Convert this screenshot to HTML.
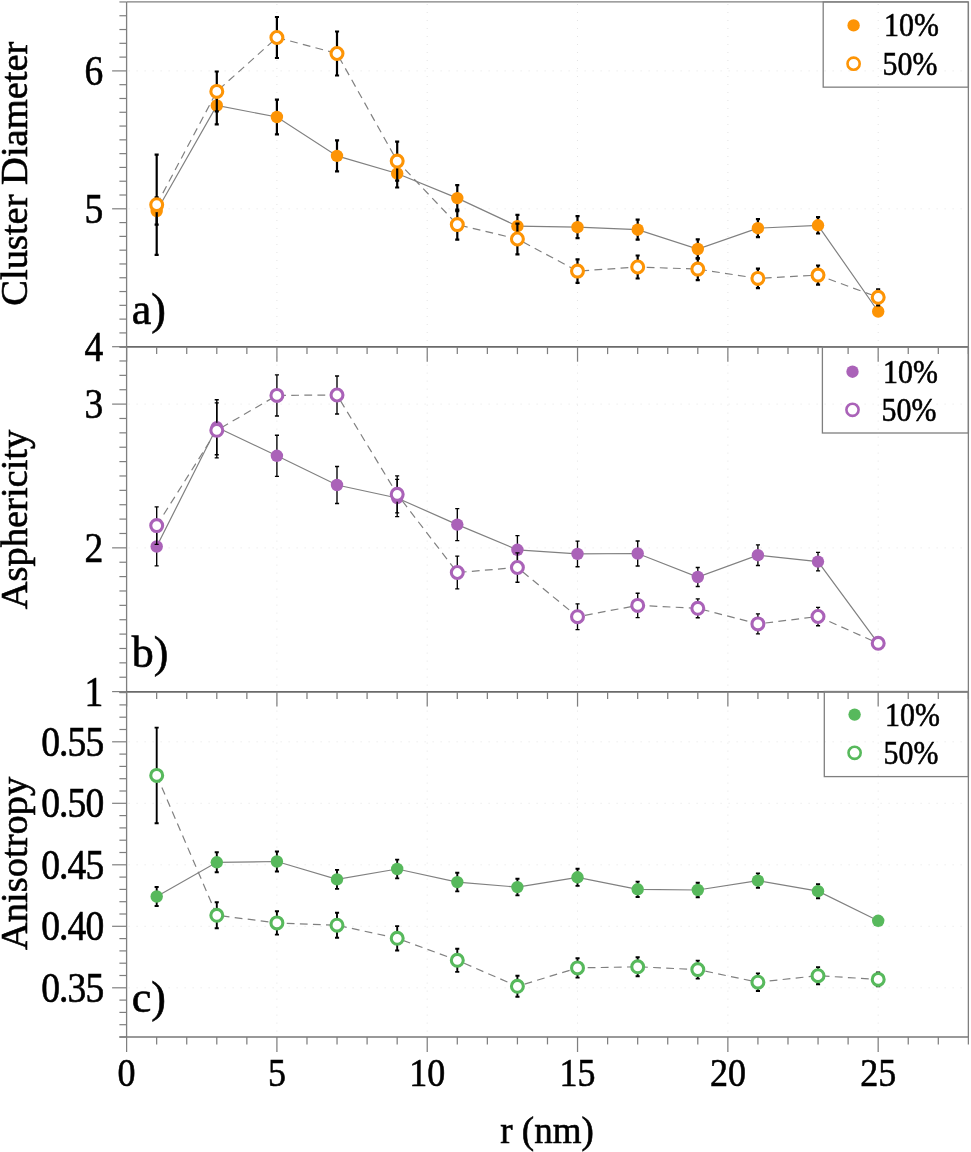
<!DOCTYPE html>
<html><head><meta charset="utf-8"><title>Cluster plots</title>
<style>html,body{margin:0;padding:0;background:#fff;} svg{display:block;will-change:transform;}</style>
</head><body>
<svg width="971" height="1152" viewBox="0 0 971 1152">
<rect width="971" height="1152" fill="#fff"/>
<line x1="128.6" y1="208.8" x2="967.4" y2="208.8" stroke="#e4e4e4" stroke-width="1" stroke-dasharray="1 7"/>
<line x1="128.6" y1="70.9" x2="967.4" y2="70.9" stroke="#e4e4e4" stroke-width="1" stroke-dasharray="1 7"/>
<line x1="276.9" y1="4.0" x2="276.9" y2="345.7" stroke="#e4e4e4" stroke-width="1" stroke-dasharray="1 7"/>
<line x1="427.2" y1="4.0" x2="427.2" y2="345.7" stroke="#e4e4e4" stroke-width="1" stroke-dasharray="1 7"/>
<line x1="577.5" y1="4.0" x2="577.5" y2="345.7" stroke="#e4e4e4" stroke-width="1" stroke-dasharray="1 7"/>
<line x1="727.9" y1="4.0" x2="727.9" y2="345.7" stroke="#e4e4e4" stroke-width="1" stroke-dasharray="1 7"/>
<line x1="878.2" y1="4.0" x2="878.2" y2="345.7" stroke="#e4e4e4" stroke-width="1" stroke-dasharray="1 7"/>
<line x1="128.6" y1="547.9" x2="967.4" y2="547.9" stroke="#e4e4e4" stroke-width="1" stroke-dasharray="1 7"/>
<line x1="128.6" y1="404.1" x2="967.4" y2="404.1" stroke="#e4e4e4" stroke-width="1" stroke-dasharray="1 7"/>
<line x1="276.9" y1="348.6" x2="276.9" y2="690.6" stroke="#e4e4e4" stroke-width="1" stroke-dasharray="1 7"/>
<line x1="427.2" y1="348.6" x2="427.2" y2="690.6" stroke="#e4e4e4" stroke-width="1" stroke-dasharray="1 7"/>
<line x1="577.5" y1="348.6" x2="577.5" y2="690.6" stroke="#e4e4e4" stroke-width="1" stroke-dasharray="1 7"/>
<line x1="727.9" y1="348.6" x2="727.9" y2="690.6" stroke="#e4e4e4" stroke-width="1" stroke-dasharray="1 7"/>
<line x1="878.2" y1="348.6" x2="878.2" y2="690.6" stroke="#e4e4e4" stroke-width="1" stroke-dasharray="1 7"/>
<line x1="128.6" y1="987.8" x2="967.4" y2="987.8" stroke="#e4e4e4" stroke-width="1" stroke-dasharray="1 7"/>
<line x1="128.6" y1="926.3" x2="967.4" y2="926.3" stroke="#e4e4e4" stroke-width="1" stroke-dasharray="1 7"/>
<line x1="128.6" y1="864.8" x2="967.4" y2="864.8" stroke="#e4e4e4" stroke-width="1" stroke-dasharray="1 7"/>
<line x1="128.6" y1="803.3" x2="967.4" y2="803.3" stroke="#e4e4e4" stroke-width="1" stroke-dasharray="1 7"/>
<line x1="128.6" y1="741.8" x2="967.4" y2="741.8" stroke="#e4e4e4" stroke-width="1" stroke-dasharray="1 7"/>
<line x1="276.9" y1="694.6" x2="276.9" y2="1036.0" stroke="#e4e4e4" stroke-width="1" stroke-dasharray="1 7"/>
<line x1="427.2" y1="694.6" x2="427.2" y2="1036.0" stroke="#e4e4e4" stroke-width="1" stroke-dasharray="1 7"/>
<line x1="577.5" y1="694.6" x2="577.5" y2="1036.0" stroke="#e4e4e4" stroke-width="1" stroke-dasharray="1 7"/>
<line x1="727.9" y1="694.6" x2="727.9" y2="1036.0" stroke="#e4e4e4" stroke-width="1" stroke-dasharray="1 7"/>
<line x1="878.2" y1="694.6" x2="878.2" y2="1036.0" stroke="#e4e4e4" stroke-width="1" stroke-dasharray="1 7"/>
<line x1="126.6" y1="1.9500000000000028" x2="126.6" y2="346.70000000000005" stroke="#7f7f7f" stroke-width="1.3"/>
<line x1="968.364" y1="1.9500000000000028" x2="968.364" y2="346.70000000000005" stroke="#7f7f7f" stroke-width="1.3"/>
<line x1="126.6" y1="1.9500000000000028" x2="968.364" y2="1.9500000000000028" stroke="#7f7f7f" stroke-width="1.3"/>
<line x1="119.4" y1="346.9" x2="968.364" y2="346.9" stroke="#6a6a6a" stroke-width="1.9"/>
<line x1="112.1" y1="346.70" x2="126.6" y2="346.70" stroke="#7f7f7f" stroke-width="1.2"/>
<line x1="119.4" y1="332.91" x2="126.6" y2="332.91" stroke="#7f7f7f" stroke-width="1.2"/>
<line x1="119.4" y1="319.12" x2="126.6" y2="319.12" stroke="#7f7f7f" stroke-width="1.2"/>
<line x1="119.4" y1="305.33" x2="126.6" y2="305.33" stroke="#7f7f7f" stroke-width="1.2"/>
<line x1="119.4" y1="291.54" x2="126.6" y2="291.54" stroke="#7f7f7f" stroke-width="1.2"/>
<line x1="119.4" y1="277.75" x2="126.6" y2="277.75" stroke="#7f7f7f" stroke-width="1.2"/>
<line x1="119.4" y1="263.96" x2="126.6" y2="263.96" stroke="#7f7f7f" stroke-width="1.2"/>
<line x1="119.4" y1="250.17" x2="126.6" y2="250.17" stroke="#7f7f7f" stroke-width="1.2"/>
<line x1="119.4" y1="236.38" x2="126.6" y2="236.38" stroke="#7f7f7f" stroke-width="1.2"/>
<line x1="119.4" y1="222.59" x2="126.6" y2="222.59" stroke="#7f7f7f" stroke-width="1.2"/>
<line x1="112.1" y1="208.80" x2="126.6" y2="208.80" stroke="#7f7f7f" stroke-width="1.2"/>
<line x1="119.4" y1="195.01" x2="126.6" y2="195.01" stroke="#7f7f7f" stroke-width="1.2"/>
<line x1="119.4" y1="181.22" x2="126.6" y2="181.22" stroke="#7f7f7f" stroke-width="1.2"/>
<line x1="119.4" y1="167.43" x2="126.6" y2="167.43" stroke="#7f7f7f" stroke-width="1.2"/>
<line x1="119.4" y1="153.64" x2="126.6" y2="153.64" stroke="#7f7f7f" stroke-width="1.2"/>
<line x1="119.4" y1="139.85" x2="126.6" y2="139.85" stroke="#7f7f7f" stroke-width="1.2"/>
<line x1="119.4" y1="126.06" x2="126.6" y2="126.06" stroke="#7f7f7f" stroke-width="1.2"/>
<line x1="119.4" y1="112.27" x2="126.6" y2="112.27" stroke="#7f7f7f" stroke-width="1.2"/>
<line x1="119.4" y1="98.48" x2="126.6" y2="98.48" stroke="#7f7f7f" stroke-width="1.2"/>
<line x1="119.4" y1="84.69" x2="126.6" y2="84.69" stroke="#7f7f7f" stroke-width="1.2"/>
<line x1="112.1" y1="70.90" x2="126.6" y2="70.90" stroke="#7f7f7f" stroke-width="1.2"/>
<line x1="119.4" y1="57.11" x2="126.6" y2="57.11" stroke="#7f7f7f" stroke-width="1.2"/>
<line x1="119.4" y1="43.32" x2="126.6" y2="43.32" stroke="#7f7f7f" stroke-width="1.2"/>
<line x1="119.4" y1="29.53" x2="126.6" y2="29.53" stroke="#7f7f7f" stroke-width="1.2"/>
<line x1="119.4" y1="15.74" x2="126.6" y2="15.74" stroke="#7f7f7f" stroke-width="1.2"/>
<line x1="119.4" y1="1.95" x2="126.6" y2="1.95" stroke="#7f7f7f" stroke-width="1.2"/>
<line x1="126.60" y1="346.70000000000005" x2="126.60" y2="361.7" stroke="#7f7f7f" stroke-width="1.25"/>
<line x1="156.66" y1="346.70000000000005" x2="156.66" y2="354.1" stroke="#7f7f7f" stroke-width="1.25"/>
<line x1="186.73" y1="346.70000000000005" x2="186.73" y2="354.1" stroke="#7f7f7f" stroke-width="1.25"/>
<line x1="216.79" y1="346.70000000000005" x2="216.79" y2="354.1" stroke="#7f7f7f" stroke-width="1.25"/>
<line x1="246.85" y1="346.70000000000005" x2="246.85" y2="354.1" stroke="#7f7f7f" stroke-width="1.25"/>
<line x1="276.91" y1="346.70000000000005" x2="276.91" y2="361.7" stroke="#7f7f7f" stroke-width="1.25"/>
<line x1="306.98" y1="346.70000000000005" x2="306.98" y2="354.1" stroke="#7f7f7f" stroke-width="1.25"/>
<line x1="337.04" y1="346.70000000000005" x2="337.04" y2="354.1" stroke="#7f7f7f" stroke-width="1.25"/>
<line x1="367.10" y1="346.70000000000005" x2="367.10" y2="354.1" stroke="#7f7f7f" stroke-width="1.25"/>
<line x1="397.17" y1="346.70000000000005" x2="397.17" y2="354.1" stroke="#7f7f7f" stroke-width="1.25"/>
<line x1="427.23" y1="346.70000000000005" x2="427.23" y2="361.7" stroke="#7f7f7f" stroke-width="1.25"/>
<line x1="457.29" y1="346.70000000000005" x2="457.29" y2="354.1" stroke="#7f7f7f" stroke-width="1.25"/>
<line x1="487.36" y1="346.70000000000005" x2="487.36" y2="354.1" stroke="#7f7f7f" stroke-width="1.25"/>
<line x1="517.42" y1="346.70000000000005" x2="517.42" y2="354.1" stroke="#7f7f7f" stroke-width="1.25"/>
<line x1="547.48" y1="346.70000000000005" x2="547.48" y2="354.1" stroke="#7f7f7f" stroke-width="1.25"/>
<line x1="577.54" y1="346.70000000000005" x2="577.54" y2="361.7" stroke="#7f7f7f" stroke-width="1.25"/>
<line x1="607.61" y1="346.70000000000005" x2="607.61" y2="354.1" stroke="#7f7f7f" stroke-width="1.25"/>
<line x1="637.67" y1="346.70000000000005" x2="637.67" y2="354.1" stroke="#7f7f7f" stroke-width="1.25"/>
<line x1="667.73" y1="346.70000000000005" x2="667.73" y2="354.1" stroke="#7f7f7f" stroke-width="1.25"/>
<line x1="697.80" y1="346.70000000000005" x2="697.80" y2="354.1" stroke="#7f7f7f" stroke-width="1.25"/>
<line x1="727.86" y1="346.70000000000005" x2="727.86" y2="361.7" stroke="#7f7f7f" stroke-width="1.25"/>
<line x1="757.92" y1="346.70000000000005" x2="757.92" y2="354.1" stroke="#7f7f7f" stroke-width="1.25"/>
<line x1="787.99" y1="346.70000000000005" x2="787.99" y2="354.1" stroke="#7f7f7f" stroke-width="1.25"/>
<line x1="818.05" y1="346.70000000000005" x2="818.05" y2="354.1" stroke="#7f7f7f" stroke-width="1.25"/>
<line x1="848.11" y1="346.70000000000005" x2="848.11" y2="354.1" stroke="#7f7f7f" stroke-width="1.25"/>
<line x1="878.17" y1="346.70000000000005" x2="878.17" y2="361.7" stroke="#7f7f7f" stroke-width="1.25"/>
<line x1="908.24" y1="346.70000000000005" x2="908.24" y2="354.1" stroke="#7f7f7f" stroke-width="1.25"/>
<line x1="938.30" y1="346.70000000000005" x2="938.30" y2="354.1" stroke="#7f7f7f" stroke-width="1.25"/>
<line x1="968.36" y1="346.70000000000005" x2="968.36" y2="354.1" stroke="#7f7f7f" stroke-width="1.25"/>
<line x1="126.6" y1="346.6" x2="126.6" y2="691.6" stroke="#7f7f7f" stroke-width="1.3"/>
<line x1="968.364" y1="346.6" x2="968.364" y2="691.6" stroke="#7f7f7f" stroke-width="1.3"/>
<line x1="119.4" y1="691.9" x2="968.364" y2="691.9" stroke="#6a6a6a" stroke-width="1.9"/>
<line x1="112.1" y1="691.60" x2="126.6" y2="691.60" stroke="#7f7f7f" stroke-width="1.2"/>
<line x1="119.4" y1="677.23" x2="126.6" y2="677.23" stroke="#7f7f7f" stroke-width="1.2"/>
<line x1="119.4" y1="662.85" x2="126.6" y2="662.85" stroke="#7f7f7f" stroke-width="1.2"/>
<line x1="119.4" y1="648.48" x2="126.6" y2="648.48" stroke="#7f7f7f" stroke-width="1.2"/>
<line x1="119.4" y1="634.10" x2="126.6" y2="634.10" stroke="#7f7f7f" stroke-width="1.2"/>
<line x1="119.4" y1="619.73" x2="126.6" y2="619.73" stroke="#7f7f7f" stroke-width="1.2"/>
<line x1="119.4" y1="605.35" x2="126.6" y2="605.35" stroke="#7f7f7f" stroke-width="1.2"/>
<line x1="119.4" y1="590.98" x2="126.6" y2="590.98" stroke="#7f7f7f" stroke-width="1.2"/>
<line x1="119.4" y1="576.60" x2="126.6" y2="576.60" stroke="#7f7f7f" stroke-width="1.2"/>
<line x1="119.4" y1="562.23" x2="126.6" y2="562.23" stroke="#7f7f7f" stroke-width="1.2"/>
<line x1="112.1" y1="547.85" x2="126.6" y2="547.85" stroke="#7f7f7f" stroke-width="1.2"/>
<line x1="119.4" y1="533.48" x2="126.6" y2="533.48" stroke="#7f7f7f" stroke-width="1.2"/>
<line x1="119.4" y1="519.10" x2="126.6" y2="519.10" stroke="#7f7f7f" stroke-width="1.2"/>
<line x1="119.4" y1="504.73" x2="126.6" y2="504.73" stroke="#7f7f7f" stroke-width="1.2"/>
<line x1="119.4" y1="490.35" x2="126.6" y2="490.35" stroke="#7f7f7f" stroke-width="1.2"/>
<line x1="119.4" y1="475.98" x2="126.6" y2="475.98" stroke="#7f7f7f" stroke-width="1.2"/>
<line x1="119.4" y1="461.60" x2="126.6" y2="461.60" stroke="#7f7f7f" stroke-width="1.2"/>
<line x1="119.4" y1="447.23" x2="126.6" y2="447.23" stroke="#7f7f7f" stroke-width="1.2"/>
<line x1="119.4" y1="432.85" x2="126.6" y2="432.85" stroke="#7f7f7f" stroke-width="1.2"/>
<line x1="119.4" y1="418.47" x2="126.6" y2="418.47" stroke="#7f7f7f" stroke-width="1.2"/>
<line x1="112.1" y1="404.10" x2="126.6" y2="404.10" stroke="#7f7f7f" stroke-width="1.2"/>
<line x1="119.4" y1="389.73" x2="126.6" y2="389.73" stroke="#7f7f7f" stroke-width="1.2"/>
<line x1="119.4" y1="375.35" x2="126.6" y2="375.35" stroke="#7f7f7f" stroke-width="1.2"/>
<line x1="119.4" y1="360.97" x2="126.6" y2="360.97" stroke="#7f7f7f" stroke-width="1.2"/>
<line x1="119.4" y1="346.60" x2="126.6" y2="346.60" stroke="#7f7f7f" stroke-width="1.2"/>
<line x1="126.60" y1="691.6" x2="126.60" y2="706.6" stroke="#7f7f7f" stroke-width="1.25"/>
<line x1="156.66" y1="691.6" x2="156.66" y2="699.0" stroke="#7f7f7f" stroke-width="1.25"/>
<line x1="186.73" y1="691.6" x2="186.73" y2="699.0" stroke="#7f7f7f" stroke-width="1.25"/>
<line x1="216.79" y1="691.6" x2="216.79" y2="699.0" stroke="#7f7f7f" stroke-width="1.25"/>
<line x1="246.85" y1="691.6" x2="246.85" y2="699.0" stroke="#7f7f7f" stroke-width="1.25"/>
<line x1="276.91" y1="691.6" x2="276.91" y2="706.6" stroke="#7f7f7f" stroke-width="1.25"/>
<line x1="306.98" y1="691.6" x2="306.98" y2="699.0" stroke="#7f7f7f" stroke-width="1.25"/>
<line x1="337.04" y1="691.6" x2="337.04" y2="699.0" stroke="#7f7f7f" stroke-width="1.25"/>
<line x1="367.10" y1="691.6" x2="367.10" y2="699.0" stroke="#7f7f7f" stroke-width="1.25"/>
<line x1="397.17" y1="691.6" x2="397.17" y2="699.0" stroke="#7f7f7f" stroke-width="1.25"/>
<line x1="427.23" y1="691.6" x2="427.23" y2="706.6" stroke="#7f7f7f" stroke-width="1.25"/>
<line x1="457.29" y1="691.6" x2="457.29" y2="699.0" stroke="#7f7f7f" stroke-width="1.25"/>
<line x1="487.36" y1="691.6" x2="487.36" y2="699.0" stroke="#7f7f7f" stroke-width="1.25"/>
<line x1="517.42" y1="691.6" x2="517.42" y2="699.0" stroke="#7f7f7f" stroke-width="1.25"/>
<line x1="547.48" y1="691.6" x2="547.48" y2="699.0" stroke="#7f7f7f" stroke-width="1.25"/>
<line x1="577.54" y1="691.6" x2="577.54" y2="706.6" stroke="#7f7f7f" stroke-width="1.25"/>
<line x1="607.61" y1="691.6" x2="607.61" y2="699.0" stroke="#7f7f7f" stroke-width="1.25"/>
<line x1="637.67" y1="691.6" x2="637.67" y2="699.0" stroke="#7f7f7f" stroke-width="1.25"/>
<line x1="667.73" y1="691.6" x2="667.73" y2="699.0" stroke="#7f7f7f" stroke-width="1.25"/>
<line x1="697.80" y1="691.6" x2="697.80" y2="699.0" stroke="#7f7f7f" stroke-width="1.25"/>
<line x1="727.86" y1="691.6" x2="727.86" y2="706.6" stroke="#7f7f7f" stroke-width="1.25"/>
<line x1="757.92" y1="691.6" x2="757.92" y2="699.0" stroke="#7f7f7f" stroke-width="1.25"/>
<line x1="787.99" y1="691.6" x2="787.99" y2="699.0" stroke="#7f7f7f" stroke-width="1.25"/>
<line x1="818.05" y1="691.6" x2="818.05" y2="699.0" stroke="#7f7f7f" stroke-width="1.25"/>
<line x1="848.11" y1="691.6" x2="848.11" y2="699.0" stroke="#7f7f7f" stroke-width="1.25"/>
<line x1="878.17" y1="691.6" x2="878.17" y2="706.6" stroke="#7f7f7f" stroke-width="1.25"/>
<line x1="908.24" y1="691.6" x2="908.24" y2="699.0" stroke="#7f7f7f" stroke-width="1.25"/>
<line x1="938.30" y1="691.6" x2="938.30" y2="699.0" stroke="#7f7f7f" stroke-width="1.25"/>
<line x1="968.36" y1="691.6" x2="968.36" y2="699.0" stroke="#7f7f7f" stroke-width="1.25"/>
<line x1="126.6" y1="692.6" x2="126.6" y2="1037.0" stroke="#7f7f7f" stroke-width="1.3"/>
<line x1="968.364" y1="692.6" x2="968.364" y2="1037.0" stroke="#7f7f7f" stroke-width="1.3"/>
<line x1="119.4" y1="1037.0" x2="968.364" y2="1037.0" stroke="#777" stroke-width="1.3"/>
<line x1="119.4" y1="1037.00" x2="126.6" y2="1037.00" stroke="#7f7f7f" stroke-width="1.2"/>
<line x1="119.4" y1="1024.70" x2="126.6" y2="1024.70" stroke="#7f7f7f" stroke-width="1.2"/>
<line x1="119.4" y1="1012.40" x2="126.6" y2="1012.40" stroke="#7f7f7f" stroke-width="1.2"/>
<line x1="119.4" y1="1000.10" x2="126.6" y2="1000.10" stroke="#7f7f7f" stroke-width="1.2"/>
<line x1="112.1" y1="987.80" x2="126.6" y2="987.80" stroke="#7f7f7f" stroke-width="1.2"/>
<line x1="119.4" y1="975.50" x2="126.6" y2="975.50" stroke="#7f7f7f" stroke-width="1.2"/>
<line x1="119.4" y1="963.20" x2="126.6" y2="963.20" stroke="#7f7f7f" stroke-width="1.2"/>
<line x1="119.4" y1="950.90" x2="126.6" y2="950.90" stroke="#7f7f7f" stroke-width="1.2"/>
<line x1="119.4" y1="938.60" x2="126.6" y2="938.60" stroke="#7f7f7f" stroke-width="1.2"/>
<line x1="112.1" y1="926.30" x2="126.6" y2="926.30" stroke="#7f7f7f" stroke-width="1.2"/>
<line x1="119.4" y1="914.00" x2="126.6" y2="914.00" stroke="#7f7f7f" stroke-width="1.2"/>
<line x1="119.4" y1="901.70" x2="126.6" y2="901.70" stroke="#7f7f7f" stroke-width="1.2"/>
<line x1="119.4" y1="889.40" x2="126.6" y2="889.40" stroke="#7f7f7f" stroke-width="1.2"/>
<line x1="119.4" y1="877.10" x2="126.6" y2="877.10" stroke="#7f7f7f" stroke-width="1.2"/>
<line x1="112.1" y1="864.80" x2="126.6" y2="864.80" stroke="#7f7f7f" stroke-width="1.2"/>
<line x1="119.4" y1="852.50" x2="126.6" y2="852.50" stroke="#7f7f7f" stroke-width="1.2"/>
<line x1="119.4" y1="840.20" x2="126.6" y2="840.20" stroke="#7f7f7f" stroke-width="1.2"/>
<line x1="119.4" y1="827.90" x2="126.6" y2="827.90" stroke="#7f7f7f" stroke-width="1.2"/>
<line x1="119.4" y1="815.60" x2="126.6" y2="815.60" stroke="#7f7f7f" stroke-width="1.2"/>
<line x1="112.1" y1="803.30" x2="126.6" y2="803.30" stroke="#7f7f7f" stroke-width="1.2"/>
<line x1="119.4" y1="791.00" x2="126.6" y2="791.00" stroke="#7f7f7f" stroke-width="1.2"/>
<line x1="119.4" y1="778.70" x2="126.6" y2="778.70" stroke="#7f7f7f" stroke-width="1.2"/>
<line x1="119.4" y1="766.40" x2="126.6" y2="766.40" stroke="#7f7f7f" stroke-width="1.2"/>
<line x1="119.4" y1="754.10" x2="126.6" y2="754.10" stroke="#7f7f7f" stroke-width="1.2"/>
<line x1="112.1" y1="741.80" x2="126.6" y2="741.80" stroke="#7f7f7f" stroke-width="1.2"/>
<line x1="119.4" y1="729.50" x2="126.6" y2="729.50" stroke="#7f7f7f" stroke-width="1.2"/>
<line x1="119.4" y1="717.20" x2="126.6" y2="717.20" stroke="#7f7f7f" stroke-width="1.2"/>
<line x1="119.4" y1="704.90" x2="126.6" y2="704.90" stroke="#7f7f7f" stroke-width="1.2"/>
<line x1="119.4" y1="692.60" x2="126.6" y2="692.60" stroke="#7f7f7f" stroke-width="1.2"/>
<line x1="126.60" y1="1037.0" x2="126.60" y2="1052.0" stroke="#7f7f7f" stroke-width="1.25"/>
<line x1="156.66" y1="1037.0" x2="156.66" y2="1044.4" stroke="#7f7f7f" stroke-width="1.25"/>
<line x1="186.73" y1="1037.0" x2="186.73" y2="1044.4" stroke="#7f7f7f" stroke-width="1.25"/>
<line x1="216.79" y1="1037.0" x2="216.79" y2="1044.4" stroke="#7f7f7f" stroke-width="1.25"/>
<line x1="246.85" y1="1037.0" x2="246.85" y2="1044.4" stroke="#7f7f7f" stroke-width="1.25"/>
<line x1="276.91" y1="1037.0" x2="276.91" y2="1052.0" stroke="#7f7f7f" stroke-width="1.25"/>
<line x1="306.98" y1="1037.0" x2="306.98" y2="1044.4" stroke="#7f7f7f" stroke-width="1.25"/>
<line x1="337.04" y1="1037.0" x2="337.04" y2="1044.4" stroke="#7f7f7f" stroke-width="1.25"/>
<line x1="367.10" y1="1037.0" x2="367.10" y2="1044.4" stroke="#7f7f7f" stroke-width="1.25"/>
<line x1="397.17" y1="1037.0" x2="397.17" y2="1044.4" stroke="#7f7f7f" stroke-width="1.25"/>
<line x1="427.23" y1="1037.0" x2="427.23" y2="1052.0" stroke="#7f7f7f" stroke-width="1.25"/>
<line x1="457.29" y1="1037.0" x2="457.29" y2="1044.4" stroke="#7f7f7f" stroke-width="1.25"/>
<line x1="487.36" y1="1037.0" x2="487.36" y2="1044.4" stroke="#7f7f7f" stroke-width="1.25"/>
<line x1="517.42" y1="1037.0" x2="517.42" y2="1044.4" stroke="#7f7f7f" stroke-width="1.25"/>
<line x1="547.48" y1="1037.0" x2="547.48" y2="1044.4" stroke="#7f7f7f" stroke-width="1.25"/>
<line x1="577.54" y1="1037.0" x2="577.54" y2="1052.0" stroke="#7f7f7f" stroke-width="1.25"/>
<line x1="607.61" y1="1037.0" x2="607.61" y2="1044.4" stroke="#7f7f7f" stroke-width="1.25"/>
<line x1="637.67" y1="1037.0" x2="637.67" y2="1044.4" stroke="#7f7f7f" stroke-width="1.25"/>
<line x1="667.73" y1="1037.0" x2="667.73" y2="1044.4" stroke="#7f7f7f" stroke-width="1.25"/>
<line x1="697.80" y1="1037.0" x2="697.80" y2="1044.4" stroke="#7f7f7f" stroke-width="1.25"/>
<line x1="727.86" y1="1037.0" x2="727.86" y2="1052.0" stroke="#7f7f7f" stroke-width="1.25"/>
<line x1="757.92" y1="1037.0" x2="757.92" y2="1044.4" stroke="#7f7f7f" stroke-width="1.25"/>
<line x1="787.99" y1="1037.0" x2="787.99" y2="1044.4" stroke="#7f7f7f" stroke-width="1.25"/>
<line x1="818.05" y1="1037.0" x2="818.05" y2="1044.4" stroke="#7f7f7f" stroke-width="1.25"/>
<line x1="848.11" y1="1037.0" x2="848.11" y2="1044.4" stroke="#7f7f7f" stroke-width="1.25"/>
<line x1="878.17" y1="1037.0" x2="878.17" y2="1052.0" stroke="#7f7f7f" stroke-width="1.25"/>
<line x1="908.24" y1="1037.0" x2="908.24" y2="1044.4" stroke="#7f7f7f" stroke-width="1.25"/>
<line x1="938.30" y1="1037.0" x2="938.30" y2="1044.4" stroke="#7f7f7f" stroke-width="1.25"/>
<line x1="968.36" y1="1037.0" x2="968.36" y2="1044.4" stroke="#7f7f7f" stroke-width="1.25"/>
<text x="103.4" y="360.8" font-family="Liberation Serif, serif" stroke="#000" stroke-width="0.6" font-size="42" text-anchor="end" letter-spacing="0" transform="translate(103.4 0) scale(0.895 1) translate(-103.4 0)">4</text>
<text x="103.4" y="222.9" font-family="Liberation Serif, serif" stroke="#000" stroke-width="0.6" font-size="42" text-anchor="end" letter-spacing="0" transform="translate(103.4 0) scale(0.895 1) translate(-103.4 0)">5</text>
<text x="103.4" y="85.0" font-family="Liberation Serif, serif" stroke="#000" stroke-width="0.6" font-size="42" text-anchor="end" letter-spacing="0" transform="translate(103.4 0) scale(0.895 1) translate(-103.4 0)">6</text>
<text x="103.4" y="705.7" font-family="Liberation Serif, serif" stroke="#000" stroke-width="0.6" font-size="42" text-anchor="end" letter-spacing="0" transform="translate(103.4 0) scale(0.895 1) translate(-103.4 0)">1</text>
<text x="103.4" y="562.0" font-family="Liberation Serif, serif" stroke="#000" stroke-width="0.6" font-size="42" text-anchor="end" letter-spacing="0" transform="translate(103.4 0) scale(0.895 1) translate(-103.4 0)">2</text>
<text x="103.4" y="418.2" font-family="Liberation Serif, serif" stroke="#000" stroke-width="0.6" font-size="42" text-anchor="end" letter-spacing="0" transform="translate(103.4 0) scale(0.895 1) translate(-103.4 0)">3</text>
<text x="103.4" y="1001.9" font-family="Liberation Serif, serif" stroke="#000" stroke-width="0.6" font-size="42" text-anchor="end" letter-spacing="-1.0" transform="translate(103.4 0) scale(0.895 1) translate(-103.4 0)">0.35</text>
<text x="103.4" y="940.4" font-family="Liberation Serif, serif" stroke="#000" stroke-width="0.6" font-size="42" text-anchor="end" letter-spacing="-1.0" transform="translate(103.4 0) scale(0.895 1) translate(-103.4 0)">0.40</text>
<text x="103.4" y="878.9" font-family="Liberation Serif, serif" stroke="#000" stroke-width="0.6" font-size="42" text-anchor="end" letter-spacing="-1.0" transform="translate(103.4 0) scale(0.895 1) translate(-103.4 0)">0.45</text>
<text x="103.4" y="817.4" font-family="Liberation Serif, serif" stroke="#000" stroke-width="0.6" font-size="42" text-anchor="end" letter-spacing="-1.0" transform="translate(103.4 0) scale(0.895 1) translate(-103.4 0)">0.50</text>
<text x="103.4" y="755.9" font-family="Liberation Serif, serif" stroke="#000" stroke-width="0.6" font-size="42" text-anchor="end" letter-spacing="-1.0" transform="translate(103.4 0) scale(0.895 1) translate(-103.4 0)">0.55</text>
<text x="126.6" y="1086.5" font-family="Liberation Serif, serif" stroke="#000" stroke-width="0.6" font-size="40" text-anchor="middle" transform="translate(126.6 0) scale(0.9 1) translate(-126.6 0)">0</text>
<text x="276.9" y="1086.5" font-family="Liberation Serif, serif" stroke="#000" stroke-width="0.6" font-size="40" text-anchor="middle" transform="translate(276.9 0) scale(0.9 1) translate(-276.9 0)">5</text>
<text x="427.2" y="1086.5" font-family="Liberation Serif, serif" stroke="#000" stroke-width="0.6" font-size="40" text-anchor="middle" transform="translate(427.2 0) scale(0.9 1) translate(-427.2 0)">10</text>
<text x="577.5" y="1086.5" font-family="Liberation Serif, serif" stroke="#000" stroke-width="0.6" font-size="40" text-anchor="middle" transform="translate(577.5 0) scale(0.9 1) translate(-577.5 0)">15</text>
<text x="727.9" y="1086.5" font-family="Liberation Serif, serif" stroke="#000" stroke-width="0.6" font-size="40" text-anchor="middle" transform="translate(727.9 0) scale(0.9 1) translate(-727.9 0)">20</text>
<text x="878.2" y="1086.5" font-family="Liberation Serif, serif" stroke="#000" stroke-width="0.6" font-size="40" text-anchor="middle" transform="translate(878.2 0) scale(0.9 1) translate(-878.2 0)">25</text>
<text x="547" y="1142.5" font-family="Liberation Serif, serif" stroke="#000" stroke-width="0.6" font-size="37" text-anchor="middle">r (nm)</text>
<text x="0" y="0" font-family="Liberation Serif, serif" stroke="#000" stroke-width="0.6" font-size="38.5" text-anchor="middle" transform="translate(27 173.7) rotate(-90)">Cluster Diameter</text>
<text x="0" y="0" font-family="Liberation Serif, serif" stroke="#000" stroke-width="0.6" font-size="38.5" text-anchor="middle" transform="translate(27 519.5) rotate(-90)">Asphericity</text>
<text x="0" y="0" font-family="Liberation Serif, serif" stroke="#000" stroke-width="0.6" font-size="38.5" text-anchor="middle" transform="translate(27 863.4) rotate(-90)">Anisotropy</text>
<text x="131.8" y="323.7" font-family="Liberation Serif, serif" stroke="#000" stroke-width="0.6" font-size="44">a)</text>
<text x="131.8" y="666.5" font-family="Liberation Serif, serif" stroke="#000" stroke-width="0.6" font-size="44">b)</text>
<text x="131.8" y="1011.5" font-family="Liberation Serif, serif" stroke="#000" stroke-width="0.6" font-size="44">c)</text>
<polyline points="156.7,211.0 216.8,105.5 276.9,117.0 337.0,155.9 397.2,173.5 457.3,198.1 517.4,226.2 577.5,227.2 637.7,229.7 697.8,249.0 757.9,228.2 818.0,225.3 878.2,311.5" fill="none" stroke="#808080" stroke-width="1.2"/>
<polyline points="156.7,204.7 216.8,91.4 276.9,37.5 337.0,53.5 397.2,161.1 457.3,224.6 517.4,239.0 577.5,271.1 637.7,267.0 697.8,269.1 757.9,278.4 818.0,275.1 878.2,297.3" fill="none" stroke="#808080" stroke-width="1.2" stroke-dasharray="7.8 5.3"/>
<path d="M156.7 197.4V224.6M154.6 197.4h4.1M154.6 224.6h4.1" stroke="#000" stroke-width="2.2" fill="none"/>
<circle cx="156.7" cy="211.0" r="6.2" fill="#fd9405"/>
<path d="M216.8 86.7V124.3M214.7 86.7h4.1M214.7 124.3h4.1" stroke="#000" stroke-width="2.2" fill="none"/>
<circle cx="216.8" cy="105.5" r="6.2" fill="#fd9405"/>
<path d="M276.9 99.7V134.3M274.9 99.7h4.1M274.9 134.3h4.1" stroke="#000" stroke-width="2.2" fill="none"/>
<circle cx="276.9" cy="117.0" r="6.2" fill="#fd9405"/>
<path d="M337.0 140.4V171.4M335.0 140.4h4.1M335.0 171.4h4.1" stroke="#000" stroke-width="2.2" fill="none"/>
<circle cx="337.0" cy="155.9" r="6.2" fill="#fd9405"/>
<path d="M397.2 159.5V187.5M395.1 159.5h4.1M395.1 187.5h4.1" stroke="#000" stroke-width="2.2" fill="none"/>
<circle cx="397.2" cy="173.5" r="6.2" fill="#fd9405"/>
<path d="M457.3 185.1V211.1M455.2 185.1h4.1M455.2 211.1h4.1" stroke="#000" stroke-width="2.2" fill="none"/>
<circle cx="457.3" cy="198.1" r="6.2" fill="#fd9405"/>
<path d="M517.4 214.9V237.5M515.4 214.9h4.1M515.4 237.5h4.1" stroke="#000" stroke-width="2.2" fill="none"/>
<circle cx="517.4" cy="226.2" r="6.2" fill="#fd9405"/>
<path d="M577.5 216.2V238.2M575.5 216.2h4.1M575.5 238.2h4.1" stroke="#000" stroke-width="2.2" fill="none"/>
<circle cx="577.5" cy="227.2" r="6.2" fill="#fd9405"/>
<path d="M637.7 219.7V239.7M635.6 219.7h4.1M635.6 239.7h4.1" stroke="#000" stroke-width="2.2" fill="none"/>
<circle cx="637.7" cy="229.7" r="6.2" fill="#fd9405"/>
<path d="M697.8 239.3V258.7M695.7 239.3h4.1M695.7 258.7h4.1" stroke="#000" stroke-width="2.2" fill="none"/>
<circle cx="697.8" cy="249.0" r="6.2" fill="#fd9405"/>
<path d="M757.9 219.2V237.2M755.9 219.2h4.1M755.9 237.2h4.1" stroke="#000" stroke-width="2.2" fill="none"/>
<circle cx="757.9" cy="228.2" r="6.2" fill="#fd9405"/>
<path d="M818.0 217.1V233.5M816.0 217.1h4.1M816.0 233.5h4.1" stroke="#000" stroke-width="2.2" fill="none"/>
<circle cx="818.0" cy="225.3" r="6.2" fill="#fd9405"/>
<path d="M878.2 307.5V315.5M876.1 307.5h4.1M876.1 315.5h4.1" stroke="#000" stroke-width="2.2" fill="none"/>
<circle cx="878.2" cy="311.5" r="6.2" fill="#fd9405"/>
<path d="M156.7 154.6V254.8M154.6 154.6h4.1M154.6 254.8h4.1" stroke="#000" stroke-width="2.2" fill="none"/>
<circle cx="156.7" cy="204.7" r="5.95" fill="#fff" stroke="#fd9405" stroke-width="3.1"/>
<path d="M216.8 71.5V111.3M214.7 71.5h4.1M214.7 111.3h4.1" stroke="#000" stroke-width="2.2" fill="none"/>
<circle cx="216.8" cy="91.4" r="5.95" fill="#fff" stroke="#fd9405" stroke-width="3.1"/>
<path d="M276.9 17.0V58.0M274.9 17.0h4.1M274.9 58.0h4.1" stroke="#000" stroke-width="2.2" fill="none"/>
<circle cx="276.9" cy="37.5" r="5.95" fill="#fff" stroke="#fd9405" stroke-width="3.1"/>
<path d="M337.0 31.5V75.5M335.0 31.5h4.1M335.0 75.5h4.1" stroke="#000" stroke-width="2.2" fill="none"/>
<circle cx="337.0" cy="53.5" r="5.95" fill="#fff" stroke="#fd9405" stroke-width="3.1"/>
<path d="M397.2 141.6V180.6M395.1 141.6h4.1M395.1 180.6h4.1" stroke="#000" stroke-width="2.2" fill="none"/>
<circle cx="397.2" cy="161.1" r="5.95" fill="#fff" stroke="#fd9405" stroke-width="3.1"/>
<path d="M457.3 209.6V239.6M455.2 209.6h4.1M455.2 239.6h4.1" stroke="#000" stroke-width="2.2" fill="none"/>
<circle cx="457.3" cy="224.6" r="5.95" fill="#fff" stroke="#fd9405" stroke-width="3.1"/>
<path d="M517.4 223.6V254.4M515.4 223.6h4.1M515.4 254.4h4.1" stroke="#000" stroke-width="2.2" fill="none"/>
<circle cx="517.4" cy="239.0" r="5.95" fill="#fff" stroke="#fd9405" stroke-width="3.1"/>
<path d="M577.5 259.3V282.9M575.5 259.3h4.1M575.5 282.9h4.1" stroke="#000" stroke-width="2.2" fill="none"/>
<circle cx="577.5" cy="271.1" r="5.95" fill="#fff" stroke="#fd9405" stroke-width="3.1"/>
<path d="M637.7 255.5V278.5M635.6 255.5h4.1M635.6 278.5h4.1" stroke="#000" stroke-width="2.2" fill="none"/>
<circle cx="637.7" cy="267.0" r="5.95" fill="#fff" stroke="#fd9405" stroke-width="3.1"/>
<path d="M697.8 258.1V280.1M695.7 258.1h4.1M695.7 280.1h4.1" stroke="#000" stroke-width="2.2" fill="none"/>
<circle cx="697.8" cy="269.1" r="5.95" fill="#fff" stroke="#fd9405" stroke-width="3.1"/>
<path d="M757.9 268.7V288.1M755.9 268.7h4.1M755.9 288.1h4.1" stroke="#000" stroke-width="2.2" fill="none"/>
<circle cx="757.9" cy="278.4" r="5.95" fill="#fff" stroke="#fd9405" stroke-width="3.1"/>
<path d="M818.0 265.5V284.7M816.0 265.5h4.1M816.0 284.7h4.1" stroke="#000" stroke-width="2.2" fill="none"/>
<circle cx="818.0" cy="275.1" r="5.95" fill="#fff" stroke="#fd9405" stroke-width="3.1"/>
<path d="M878.2 289.3V305.3M876.1 289.3h4.1M876.1 305.3h4.1" stroke="#000" stroke-width="2.2" fill="none"/>
<circle cx="878.2" cy="297.3" r="5.95" fill="#fff" stroke="#fd9405" stroke-width="3.1"/>
<polyline points="156.7,546.5 216.8,427.2 276.9,455.8 337.0,485.0 397.2,498.0 457.3,524.6 517.4,549.8 577.5,553.9 637.7,553.5 697.8,577.0 757.9,555.2 818.0,561.6 878.2,643.3" fill="none" stroke="#808080" stroke-width="1.2"/>
<polyline points="156.7,525.6 216.8,430.3 276.9,395.4 337.0,395.0 397.2,494.3 457.3,572.5 517.4,567.5 577.5,616.7 637.7,605.4 697.8,608.3 757.9,623.9 818.0,616.5 878.2,643.3" fill="none" stroke="#808080" stroke-width="1.2" stroke-dasharray="7.8 5.3"/>
<path d="M156.7 527.2V565.8M154.6 527.2h4.1M154.6 565.8h4.1" stroke="#000" stroke-width="1.35" fill="none"/>
<circle cx="156.7" cy="546.5" r="6.2" fill="#aa62b8"/>
<path d="M216.8 399.7V454.7M214.7 399.7h4.1M214.7 454.7h4.1" stroke="#000" stroke-width="1.35" fill="none"/>
<circle cx="216.8" cy="427.2" r="6.2" fill="#aa62b8"/>
<path d="M276.9 435.2V476.4M274.9 435.2h4.1M274.9 476.4h4.1" stroke="#000" stroke-width="1.35" fill="none"/>
<circle cx="276.9" cy="455.8" r="6.2" fill="#aa62b8"/>
<path d="M337.0 466.5V503.5M335.0 466.5h4.1M335.0 503.5h4.1" stroke="#000" stroke-width="1.35" fill="none"/>
<circle cx="337.0" cy="485.0" r="6.2" fill="#aa62b8"/>
<path d="M397.2 479.4V516.6M395.1 479.4h4.1M395.1 516.6h4.1" stroke="#000" stroke-width="1.35" fill="none"/>
<circle cx="397.2" cy="498.0" r="6.2" fill="#aa62b8"/>
<path d="M457.3 508.6V540.6M455.2 508.6h4.1M455.2 540.6h4.1" stroke="#000" stroke-width="1.35" fill="none"/>
<circle cx="457.3" cy="524.6" r="6.2" fill="#aa62b8"/>
<path d="M517.4 535.6V564.0M515.4 535.6h4.1M515.4 564.0h4.1" stroke="#000" stroke-width="1.35" fill="none"/>
<circle cx="517.4" cy="549.8" r="6.2" fill="#aa62b8"/>
<path d="M577.5 541.1V566.7M575.5 541.1h4.1M575.5 566.7h4.1" stroke="#000" stroke-width="1.35" fill="none"/>
<circle cx="577.5" cy="553.9" r="6.2" fill="#aa62b8"/>
<path d="M637.7 541.0V566.0M635.6 541.0h4.1M635.6 566.0h4.1" stroke="#000" stroke-width="1.35" fill="none"/>
<circle cx="637.7" cy="553.5" r="6.2" fill="#aa62b8"/>
<path d="M697.8 567.5V586.5M695.7 567.5h4.1M695.7 586.5h4.1" stroke="#000" stroke-width="1.35" fill="none"/>
<circle cx="697.8" cy="577.0" r="6.2" fill="#aa62b8"/>
<path d="M757.9 544.9V565.5M755.9 544.9h4.1M755.9 565.5h4.1" stroke="#000" stroke-width="1.35" fill="none"/>
<circle cx="757.9" cy="555.2" r="6.2" fill="#aa62b8"/>
<path d="M818.0 552.3V570.9M816.0 552.3h4.1M816.0 570.9h4.1" stroke="#000" stroke-width="1.35" fill="none"/>
<circle cx="818.0" cy="561.6" r="6.2" fill="#aa62b8"/>
<path d="M878.2 639.3V647.3M876.1 639.3h4.1M876.1 647.3h4.1" stroke="#000" stroke-width="1.35" fill="none"/>
<circle cx="878.2" cy="643.3" r="6.2" fill="#aa62b8"/>
<path d="M156.7 506.9V544.3M154.6 506.9h4.1M154.6 544.3h4.1" stroke="#000" stroke-width="1.35" fill="none"/>
<circle cx="156.7" cy="525.6" r="5.95" fill="#fff" stroke="#aa62b8" stroke-width="3.1"/>
<path d="M216.8 402.8V457.8M214.7 402.8h4.1M214.7 457.8h4.1" stroke="#000" stroke-width="1.35" fill="none"/>
<circle cx="216.8" cy="430.3" r="5.95" fill="#fff" stroke="#aa62b8" stroke-width="3.1"/>
<path d="M276.9 374.8V416.0M274.9 374.8h4.1M274.9 416.0h4.1" stroke="#000" stroke-width="1.35" fill="none"/>
<circle cx="276.9" cy="395.4" r="5.95" fill="#fff" stroke="#aa62b8" stroke-width="3.1"/>
<path d="M337.0 376.0V414.0M335.0 376.0h4.1M335.0 414.0h4.1" stroke="#000" stroke-width="1.35" fill="none"/>
<circle cx="337.0" cy="395.0" r="5.95" fill="#fff" stroke="#aa62b8" stroke-width="3.1"/>
<path d="M397.2 475.8V512.8M395.1 475.8h4.1M395.1 512.8h4.1" stroke="#000" stroke-width="1.35" fill="none"/>
<circle cx="397.2" cy="494.3" r="5.95" fill="#fff" stroke="#aa62b8" stroke-width="3.1"/>
<path d="M457.3 556.1V588.9M455.2 556.1h4.1M455.2 588.9h4.1" stroke="#000" stroke-width="1.35" fill="none"/>
<circle cx="457.3" cy="572.5" r="5.95" fill="#fff" stroke="#aa62b8" stroke-width="3.1"/>
<path d="M517.4 552.8V582.2M515.4 552.8h4.1M515.4 582.2h4.1" stroke="#000" stroke-width="1.35" fill="none"/>
<circle cx="517.4" cy="567.5" r="5.95" fill="#fff" stroke="#aa62b8" stroke-width="3.1"/>
<path d="M577.5 603.8V629.6M575.5 603.8h4.1M575.5 629.6h4.1" stroke="#000" stroke-width="1.35" fill="none"/>
<circle cx="577.5" cy="616.7" r="5.95" fill="#fff" stroke="#aa62b8" stroke-width="3.1"/>
<path d="M637.7 593.2V617.6M635.6 593.2h4.1M635.6 617.6h4.1" stroke="#000" stroke-width="1.35" fill="none"/>
<circle cx="637.7" cy="605.4" r="5.95" fill="#fff" stroke="#aa62b8" stroke-width="3.1"/>
<path d="M697.8 598.9V617.7M695.7 598.9h4.1M695.7 617.7h4.1" stroke="#000" stroke-width="1.35" fill="none"/>
<circle cx="697.8" cy="608.3" r="5.95" fill="#fff" stroke="#aa62b8" stroke-width="3.1"/>
<path d="M757.9 613.9V633.9M755.9 613.9h4.1M755.9 633.9h4.1" stroke="#000" stroke-width="1.35" fill="none"/>
<circle cx="757.9" cy="623.9" r="5.95" fill="#fff" stroke="#aa62b8" stroke-width="3.1"/>
<path d="M818.0 607.3V625.7M816.0 607.3h4.1M816.0 625.7h4.1" stroke="#000" stroke-width="1.35" fill="none"/>
<circle cx="818.0" cy="616.5" r="5.95" fill="#fff" stroke="#aa62b8" stroke-width="3.1"/>
<path d="M878.2 638.3V648.3M876.1 638.3h4.1M876.1 648.3h4.1" stroke="#000" stroke-width="1.35" fill="none"/>
<circle cx="878.2" cy="643.3" r="5.95" fill="#fff" stroke="#aa62b8" stroke-width="3.1"/>
<polyline points="156.7,896.5 216.8,862.3 276.9,861.5 337.0,879.4 397.2,869.0 457.3,882.1 517.4,887.1 577.5,877.3 637.7,889.3 697.8,890.0 757.9,880.6 818.0,891.2 878.2,920.8" fill="none" stroke="#808080" stroke-width="1.2"/>
<polyline points="156.7,775.4 216.8,915.3 276.9,922.9 337.0,925.2 397.2,938.3 457.3,960.3 517.4,986.3 577.5,967.9 637.7,966.8 697.8,969.6 757.9,982.2 818.0,975.7 878.2,979.4" fill="none" stroke="#808080" stroke-width="1.2" stroke-dasharray="7.8 5.3"/>
<path d="M156.7 887.0V906.0M154.6 887.0h4.1M154.6 906.0h4.1" stroke="#000" stroke-width="1.9" fill="none"/>
<circle cx="156.7" cy="896.5" r="6.2" fill="#57b95c"/>
<path d="M216.8 852.3V872.3M214.7 852.3h4.1M214.7 872.3h4.1" stroke="#000" stroke-width="1.9" fill="none"/>
<circle cx="216.8" cy="862.3" r="6.2" fill="#57b95c"/>
<path d="M276.9 851.5V871.5M274.9 851.5h4.1M274.9 871.5h4.1" stroke="#000" stroke-width="1.9" fill="none"/>
<circle cx="276.9" cy="861.5" r="6.2" fill="#57b95c"/>
<path d="M337.0 869.9V888.9M335.0 869.9h4.1M335.0 888.9h4.1" stroke="#000" stroke-width="1.9" fill="none"/>
<circle cx="337.0" cy="879.4" r="6.2" fill="#57b95c"/>
<path d="M397.2 859.6V878.4M395.1 859.6h4.1M395.1 878.4h4.1" stroke="#000" stroke-width="1.9" fill="none"/>
<circle cx="397.2" cy="869.0" r="6.2" fill="#57b95c"/>
<path d="M457.3 872.8V891.4M455.2 872.8h4.1M455.2 891.4h4.1" stroke="#000" stroke-width="1.9" fill="none"/>
<circle cx="457.3" cy="882.1" r="6.2" fill="#57b95c"/>
<path d="M517.4 878.8V895.4M515.4 878.8h4.1M515.4 895.4h4.1" stroke="#000" stroke-width="1.9" fill="none"/>
<circle cx="517.4" cy="887.1" r="6.2" fill="#57b95c"/>
<path d="M577.5 868.7V885.9M575.5 868.7h4.1M575.5 885.9h4.1" stroke="#000" stroke-width="1.9" fill="none"/>
<circle cx="577.5" cy="877.3" r="6.2" fill="#57b95c"/>
<path d="M637.7 881.6V897.0M635.6 881.6h4.1M635.6 897.0h4.1" stroke="#000" stroke-width="1.9" fill="none"/>
<circle cx="637.7" cy="889.3" r="6.2" fill="#57b95c"/>
<path d="M697.8 882.7V897.3M695.7 882.7h4.1M695.7 897.3h4.1" stroke="#000" stroke-width="1.9" fill="none"/>
<circle cx="697.8" cy="890.0" r="6.2" fill="#57b95c"/>
<path d="M757.9 873.4V887.8M755.9 873.4h4.1M755.9 887.8h4.1" stroke="#000" stroke-width="1.9" fill="none"/>
<circle cx="757.9" cy="880.6" r="6.2" fill="#57b95c"/>
<path d="M818.0 884.2V898.2M816.0 884.2h4.1M816.0 898.2h4.1" stroke="#000" stroke-width="1.9" fill="none"/>
<circle cx="818.0" cy="891.2" r="6.2" fill="#57b95c"/>
<path d="M878.2 917.8V923.8M876.1 917.8h4.1M876.1 923.8h4.1" stroke="#000" stroke-width="1.9" fill="none"/>
<circle cx="878.2" cy="920.8" r="6.2" fill="#57b95c"/>
<path d="M156.7 727.6V823.2M154.6 727.6h4.1M154.6 823.2h4.1" stroke="#000" stroke-width="1.9" fill="none"/>
<circle cx="156.7" cy="775.4" r="5.95" fill="#fff" stroke="#57b95c" stroke-width="3.1"/>
<path d="M216.8 902.3V928.3M214.7 902.3h4.1M214.7 928.3h4.1" stroke="#000" stroke-width="1.9" fill="none"/>
<circle cx="216.8" cy="915.3" r="5.95" fill="#fff" stroke="#57b95c" stroke-width="3.1"/>
<path d="M276.9 911.2V934.6M274.9 911.2h4.1M274.9 934.6h4.1" stroke="#000" stroke-width="1.9" fill="none"/>
<circle cx="276.9" cy="922.9" r="5.95" fill="#fff" stroke="#57b95c" stroke-width="3.1"/>
<path d="M337.0 912.7V937.7M335.0 912.7h4.1M335.0 937.7h4.1" stroke="#000" stroke-width="1.9" fill="none"/>
<circle cx="337.0" cy="925.2" r="5.95" fill="#fff" stroke="#57b95c" stroke-width="3.1"/>
<path d="M397.2 926.1V950.5M395.1 926.1h4.1M395.1 950.5h4.1" stroke="#000" stroke-width="1.9" fill="none"/>
<circle cx="397.2" cy="938.3" r="5.95" fill="#fff" stroke="#57b95c" stroke-width="3.1"/>
<path d="M457.3 948.7V971.9M455.2 948.7h4.1M455.2 971.9h4.1" stroke="#000" stroke-width="1.9" fill="none"/>
<circle cx="457.3" cy="960.3" r="5.95" fill="#fff" stroke="#57b95c" stroke-width="3.1"/>
<path d="M517.4 975.8V996.8M515.4 975.8h4.1M515.4 996.8h4.1" stroke="#000" stroke-width="1.9" fill="none"/>
<circle cx="517.4" cy="986.3" r="5.95" fill="#fff" stroke="#57b95c" stroke-width="3.1"/>
<path d="M577.5 958.2V977.6M575.5 958.2h4.1M575.5 977.6h4.1" stroke="#000" stroke-width="1.9" fill="none"/>
<circle cx="577.5" cy="967.9" r="5.95" fill="#fff" stroke="#57b95c" stroke-width="3.1"/>
<path d="M637.7 957.3V976.3M635.6 957.3h4.1M635.6 976.3h4.1" stroke="#000" stroke-width="1.9" fill="none"/>
<circle cx="637.7" cy="966.8" r="5.95" fill="#fff" stroke="#57b95c" stroke-width="3.1"/>
<path d="M697.8 960.6V978.6M695.7 960.6h4.1M695.7 978.6h4.1" stroke="#000" stroke-width="1.9" fill="none"/>
<circle cx="697.8" cy="969.6" r="5.95" fill="#fff" stroke="#57b95c" stroke-width="3.1"/>
<path d="M757.9 973.4V991.0M755.9 973.4h4.1M755.9 991.0h4.1" stroke="#000" stroke-width="1.9" fill="none"/>
<circle cx="757.9" cy="982.2" r="5.95" fill="#fff" stroke="#57b95c" stroke-width="3.1"/>
<path d="M818.0 967.1V984.3M816.0 967.1h4.1M816.0 984.3h4.1" stroke="#000" stroke-width="1.9" fill="none"/>
<circle cx="818.0" cy="975.7" r="5.95" fill="#fff" stroke="#57b95c" stroke-width="3.1"/>
<path d="M878.2 972.4V986.4M876.1 972.4h4.1M876.1 986.4h4.1" stroke="#000" stroke-width="1.9" fill="none"/>
<circle cx="878.2" cy="979.4" r="5.95" fill="#fff" stroke="#57b95c" stroke-width="3.1"/>
<rect x="823.2" y="1.96" width="145.2" height="85.2" fill="none" stroke="#7f7f7f" stroke-width="1.3"/>
<circle cx="853.6" cy="25.4" r="6.2" fill="#fd9405"/>
<circle cx="853.6" cy="63.7" r="6.1" fill="#fff" stroke="#fd9405" stroke-width="2.6"/>
<text x="884.1" y="36.4" font-family="Liberation Serif, serif" stroke="#000" stroke-width="0.6" font-size="34" transform="translate(884.1 0) scale(0.88 1) translate(-884.1 0)">10%</text>
<text x="882.6" y="74.7" font-family="Liberation Serif, serif" stroke="#000" stroke-width="0.6" font-size="34" transform="translate(882.6 0) scale(0.88 1) translate(-882.6 0)">50%</text>
<rect x="822.4" y="347.0" width="146.0" height="86.0" fill="none" stroke="#7f7f7f" stroke-width="1.3"/>
<circle cx="852.5" cy="371.7" r="6.2" fill="#aa62b8"/>
<circle cx="852.5" cy="409.8" r="6.1" fill="#fff" stroke="#aa62b8" stroke-width="2.6"/>
<text x="883.0" y="382.7" font-family="Liberation Serif, serif" stroke="#000" stroke-width="0.6" font-size="34" transform="translate(883.0 0) scale(0.88 1) translate(-883.0 0)">10%</text>
<text x="881.5" y="420.8" font-family="Liberation Serif, serif" stroke="#000" stroke-width="0.6" font-size="34" transform="translate(881.5 0) scale(0.88 1) translate(-881.5 0)">50%</text>
<rect x="824.3" y="691.5" width="144.1" height="85.1" fill="none" stroke="#7f7f7f" stroke-width="1.3"/>
<circle cx="854.6" cy="714.6" r="6.2" fill="#57b95c"/>
<circle cx="854.6" cy="752.8" r="6.1" fill="#fff" stroke="#57b95c" stroke-width="2.6"/>
<text x="885.1" y="725.6" font-family="Liberation Serif, serif" stroke="#000" stroke-width="0.6" font-size="34" transform="translate(885.1 0) scale(0.88 1) translate(-885.1 0)">10%</text>
<text x="883.6" y="763.8" font-family="Liberation Serif, serif" stroke="#000" stroke-width="0.6" font-size="34" transform="translate(883.6 0) scale(0.88 1) translate(-883.6 0)">50%</text>
</svg>
</body></html>
